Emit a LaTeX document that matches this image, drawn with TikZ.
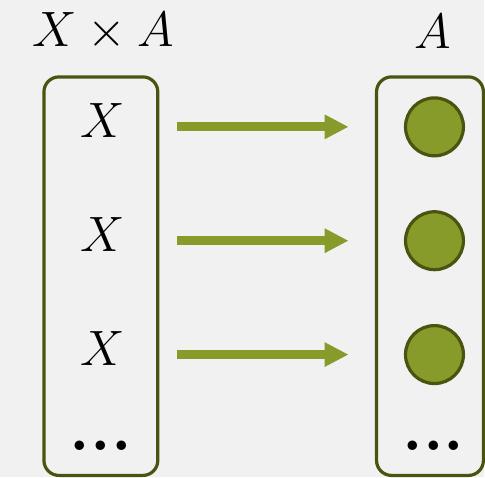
\documentclass[tikz,border=0pt]{standalone}
\usepackage{amsmath, amssymb}
\usepackage{tikz}
\usetikzlibrary{arrows.meta}

\definecolor{leaf}{RGB}{134,155,42}
\definecolor{bark}{RGB}{74,84,16}
\definecolor{paper}{RGB}{241,241,241}

\begin{document}
\begin{tikzpicture}[x=0.5pt, y=-0.5pt,
    group/.style={draw=bark, line width=1.6pt, rounded corners=7.5pt},
    elem/.style={font=\fontsize{33}{39}\selectfont},
    value/.style={circle, draw=bark, line width=1.6pt, fill=leaf, minimum size=29pt, inner sep=0pt},
    maps/.style={draw=leaf, line width=4.5pt, -{Triangle[length=12pt, width=11.5pt]},
      shorten <=37pt, shorten >=43pt}]
      % Background
      \fill[paper] (0,0) rectangle (485,478);
      % Headers
      \node[elem] (dom) at (103,32) {\(X \times A\)};
      \node[elem] (cod) at (433,32) {\(A\)};
      % Boxes
      \draw[group] (44,77) rectangle (158,476);
      \draw[group] (377,77) rectangle (484,476);
      % Row 1
      \node[elem] (x1) at (103,121) {\(X\)};
      \node[value] (a1) at (435,127) {};
      \draw[maps] (x1 |- a1) -- (a1.center);
      % Row 2
      \node[elem] (x2) at (103,235) {\(X\)};
      \node[value] (a2) at (435,241) {};
      \draw[maps] (x2 |- a2) -- (a2.center);
      % Row 3
      \node[elem] (x3) at (103,349) {\(X\)};
      \node[value] (a3) at (435,355) {};
      \draw[maps] (x3 |- a3) -- (a3.center);
      % And so on
      \node[elem] (xn) at (101,446) {\textbf{...}};
      \node[elem] (an) at (434,446) {\textbf{...}};
\end{tikzpicture}
\end{document}
